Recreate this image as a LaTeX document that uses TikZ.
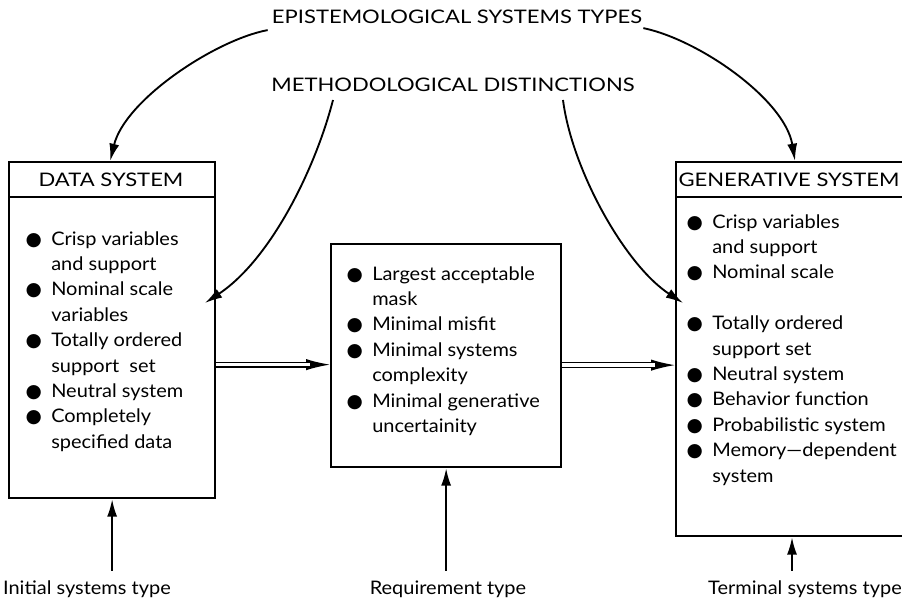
\documentclass[tikz,border=0pt]{standalone}
\usepackage{fontspec}
\setmainfont{Lato}
\newfontfamily\bodyfont[FakeStretch=1.07]{Lato}
\newfontfamily\capsfont[FakeStretch=1.18]{Lato}
\newfontfamily\dotfont{DejaVu Sans}
\usetikzlibrary{arrows.meta,calc}
% bullet hung to the left of the line start
\newcommand{\bul}{\makebox[0pt][r]{{\dotfont ●}\hspace{7pt}}}
\begin{document}
\begin{tikzpicture}[x=0.75pt,y=-0.75pt,
  font=\bodyfont\fontsize{14pt}{19.05pt}\selectfont,
  box/.style={draw, line width=1.7pt, rectangle, inner sep=0pt, anchor=north west},
  lst/.style={anchor=north west, align=left, inner sep=0pt},
  lbl/.style={inner sep=0pt},
  caps/.style={inner sep=0pt, font=\capsfont\fontsize{14pt}{17pt}\selectfont},
  arr/.style={line width=1.4pt, -{Latex[length=13pt,width=7.5pt]}},
  dblarr/.style={line width=1pt, -{Latex[length=18pt,width=8.5pt]}},
  dbl/.style={double, double distance=2.6pt, line width=1pt, shorten >=15pt}]
\clip (0,0) rectangle (902,609);

% boxes
\node[box, minimum width={206*0.75pt}, minimum height={336*0.75pt}] (data) at (8,161) {};
\node[box, minimum width={230*0.75pt}, minimum height={223*0.75pt}] (mid) at (330,243) {};
\node[box, minimum width={240*0.75pt}, minimum height={374*0.75pt}] (gen) at (675,161) {};
\draw[line width=1.7pt] ($(data.north west)+(0,36)$) -- ($(data.north east)+(0,36)$);
\draw[line width=1.7pt] ($(gen.north west)+(0,36)$) -- ($(gen.north east)+(0,36)$);

% headings
\node[caps] (datahead) at (111,180) {DATA SYSTEM};
\node[caps] (genhead) at (789,180) {GENERATIVE SYSTEM};
\node[caps] (epist) at (457,17) {EPISTEMOLOGICAL SYSTEMS TYPES};
\node[caps] (meth) at (453,85) {METHODOLOGICAL DISTINCTIONS};

% lists
\node[lst] (datalist) at (51,231) {\bul Crisp variables\\ and support\\ \bul Nominal scale\\ variables\\
  \bul Totally ordered\\ support\ \ set\\ \bul Neutral system\\ \bul Completely\\ specified data};
\node[lst] (midlist) at (372,266) {\bul Largest acceptable\\ mask\\ \bul Minimal misfit\\
  \bul Minimal systems\\ complexity\\ \bul Minimal generative\\ uncertainity};
\node[lst] (genlist) at (712,214) {\bul Crisp variables\\ and support\\ \bul Nominal scale\\ \mbox{}\\
  \bul Totally ordered\\ support set\\ \bul Neutral system\\ \bul Behavior function\\
  \bul Probabilistic system\\ \bul Memory—dependent\\ system};

% bottom labels
\node[lbl, anchor=base] (init) at (87,594) {Initial systems type};
\node[lbl, anchor=base] (req) at (448,594) {Requirement type};
\node[lbl, anchor=base] (term) at (805,594) {Terminal systems type};

% curved connectors from the headings
\draw[arr] ($(epist.south west)+(-4,6)$) .. controls (215,40) and (125,100) .. ([xshift=-1.5pt]data.north);
\draw[arr] ($(epist.south east)+(1,4)$) .. controls (700,40) and (785,100) .. (795,161);
\draw[arr] (333,100) .. controls (315,170) and (270,260) .. (205,303);
\draw[arr] (563,100) .. controls (572,170) and (625,265) .. (683,303);

% double arrows between the boxes
\coordinate (a1) at ($(mid.west)+(0,9)$);
\coordinate (a2) at ($(gen.west)+(0,16)$);
\draw[dblarr] (data.east |- a1) -- (a1);
\draw[dbl] (data.east |- a1) -- (a1);
\draw[dblarr] (mid.east |- a2) -- (a2);
\draw[dbl] (mid.east |- a2) -- (a2);

% input arrows from below
\draw[arr] ([yshift=7pt]init.north -| data.south) -- (data.south);
\draw[arr] ([yshift=7pt]req.north -| mid.south) -- (mid.south);
\draw[arr] ([yshift=7pt]term.north -| 792,0) -- (gen.south -| 792,0);
\end{tikzpicture}
\end{document}
